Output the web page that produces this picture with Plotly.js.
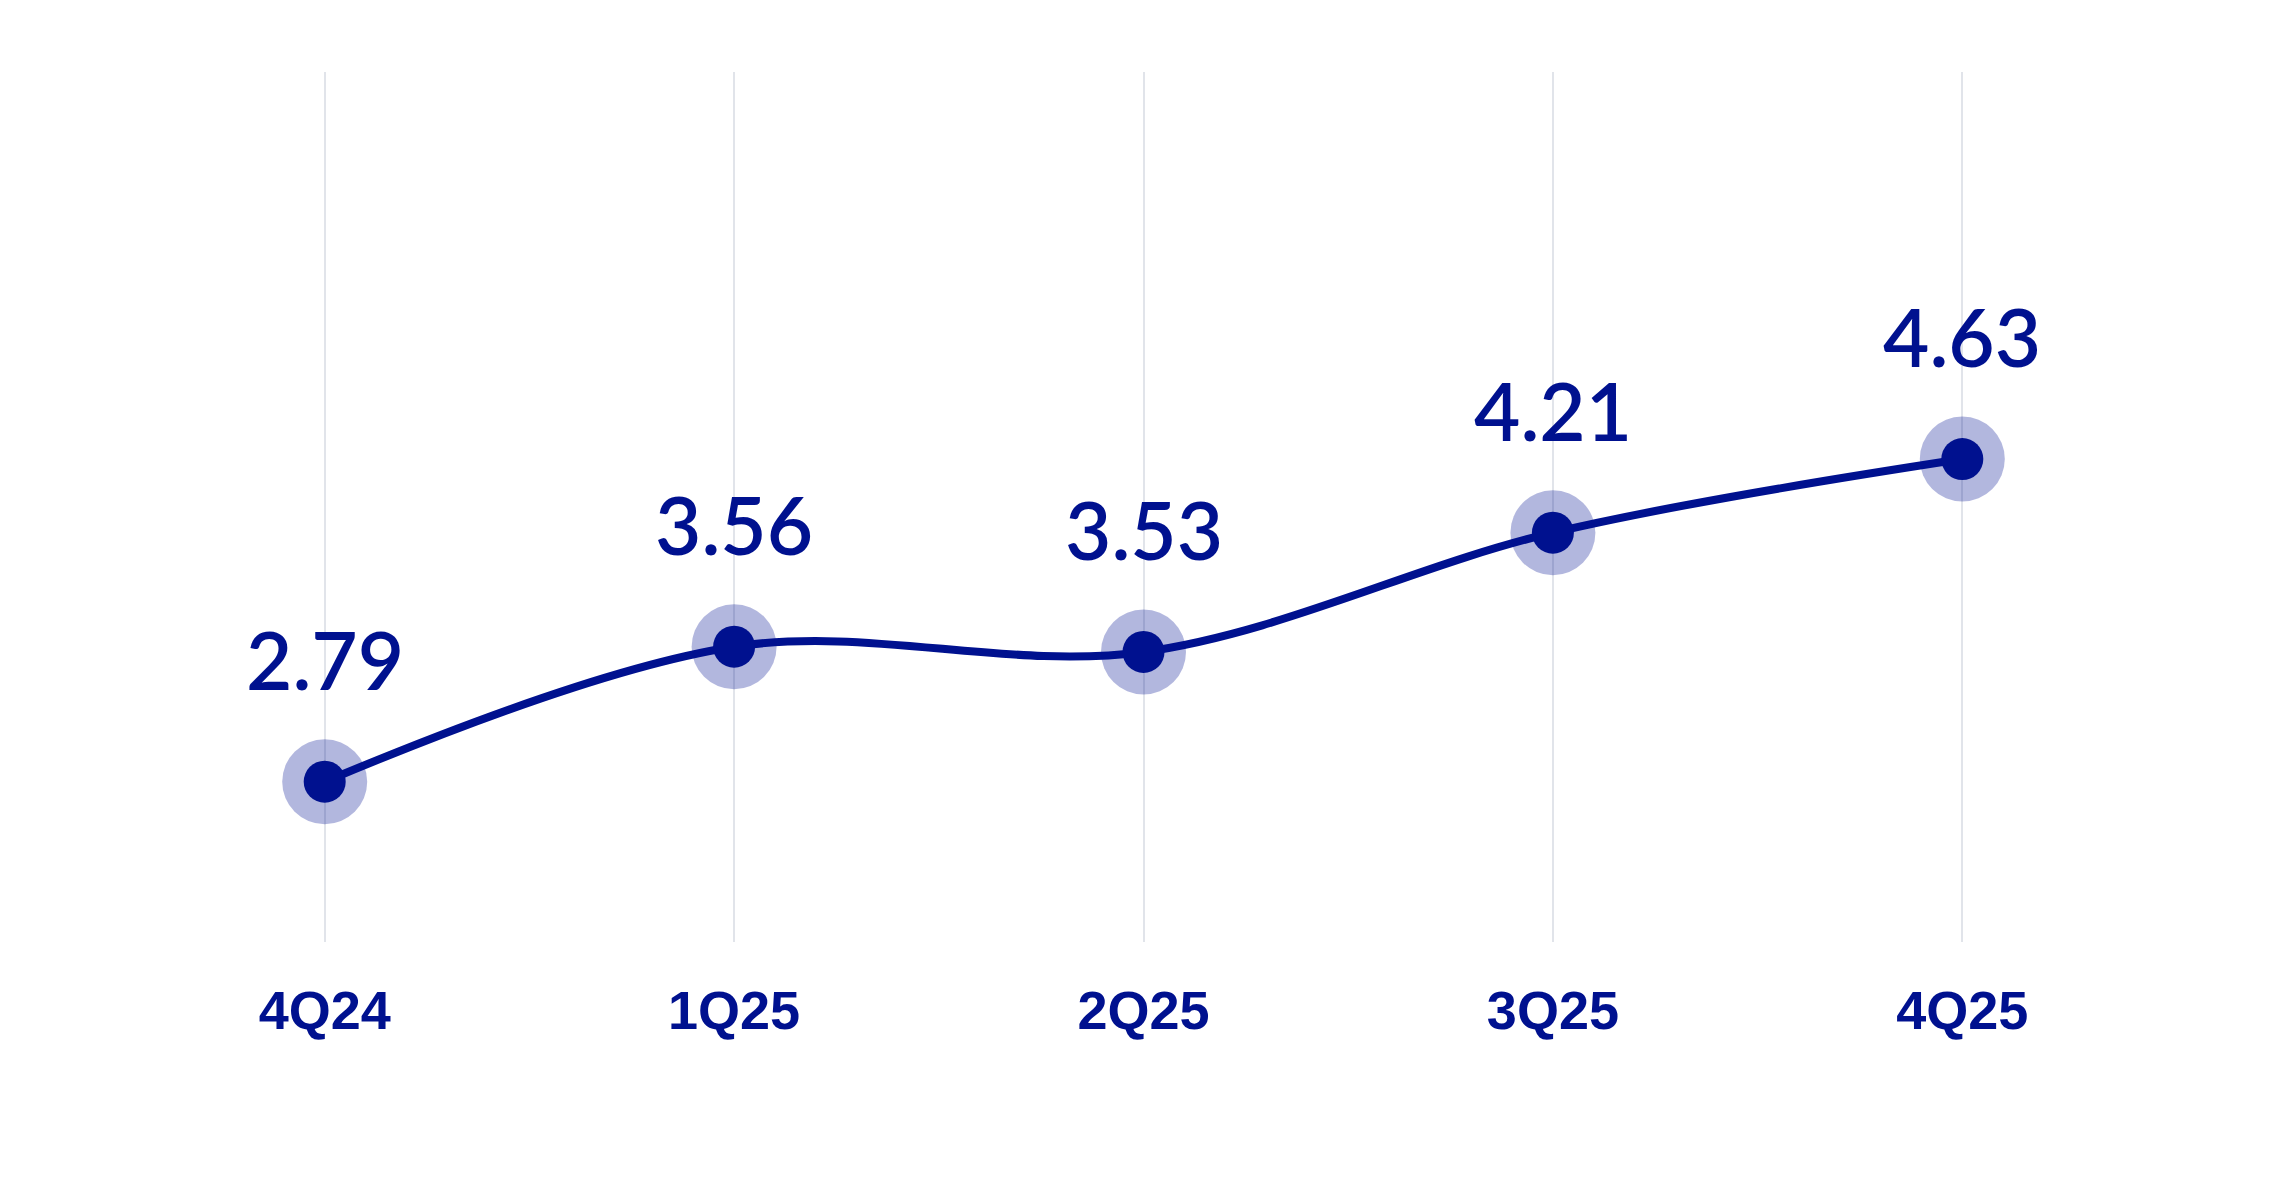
<!DOCTYPE html>
<html>
<head>
<meta charset="utf-8">
<script src="https://cdn.plot.ly/plotly-3.0.1.min.js"></script>
<style>html,body{margin:0;padding:0;background:#fff;}#chart{width:2293px;height:1188px;}</style>
</head>
<body>
<div id="chart"></div>
<script>
const quarters = ["4Q24", "1Q25", "2Q25", "3Q25", "4Q25"];
const values = [2.79, 3.56, 3.53, 4.21, 4.63];
const labels = ["2.79", "3.56", "3.53", "4.21", "4.63"];

const navy = "#00118f";

const traces = [
  {
    x: quarters, y: values, type: "scatter", mode: "lines",
    line: {color: navy, width: 8, shape: "spline", smoothing: 1},
    hoverinfo: "skip"
  },
  {
    x: quarters, y: values, type: "scatter", mode: "markers",
    marker: {color: "rgba(0,17,145,0.3)", size: 85, line: {width: 0}},
    hoverinfo: "skip"
  },
  {
    x: quarters, y: values, type: "scatter", mode: "markers",
    marker: {color: navy, size: 42, line: {width: 0}},
    hoverinfo: "skip"
  }
];

const annotations = quarters.map((q, i) => ({
  x: q, y: values[i], xref: "x", yref: "y",
  text: labels[i], showarrow: false,
  yanchor: "middle", xanchor: "center", yshift: 123,
  font: {family: "Lato, 'Noto Sans', sans-serif", size: 80, color: navy, weight: 600}
}));

const layout = {
  width: 2293, height: 1188,
  margin: {l: 120, r: 126, t: 72, b: 246},
  paper_bgcolor: "#ffffff", plot_bgcolor: "#ffffff",
  showlegend: false,
  xaxis: {
    type: "category", range: [-0.5, 4.5],
    showgrid: true, gridcolor: "#e1e4ea", gridwidth: 2,
    zeroline: false, showline: false,
    ticks: "outside", ticklen: 21, tickcolor: "rgba(0,0,0,0)",
    tickfont: {family: "'Liberation Sans', Arial, sans-serif", size: 54, color: navy, weight: "bold"}
  },
  yaxis: {
    range: [1.876, 6.837], showgrid: false, zeroline: false,
    showline: false, showticklabels: false, ticks: ""
  },
  annotations: annotations
};

Plotly.newPlot("chart", traces, layout, {displayModeBar: false, staticPlot: true});
</script>
</body>
</html>
